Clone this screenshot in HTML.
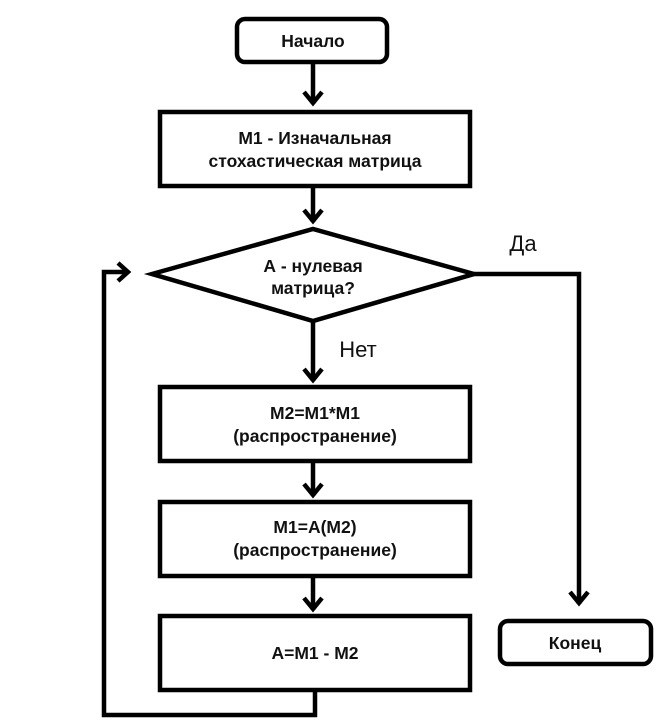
<!DOCTYPE html>
<html><head><meta charset="utf-8"><style>
html,body{margin:0;padding:0;background:#fff;}
svg text{font-family:"Liberation Sans","DejaVu Sans",sans-serif;}
.b{font-weight:bold;font-size:17.5px;}
</style></head><body>
<svg width="669" height="720" viewBox="0 0 669 720" xmlns="http://www.w3.org/2000/svg">
<g fill="none" stroke="#000" stroke-width="4.5" stroke-linejoin="miter">
<rect x="237" y="19" width="150" height="43" rx="8"/>
<rect x="160" y="112" width="310" height="74"/>
<polygon points="152,274 313,229 474,274 313,321"/>
<rect x="160" y="387" width="310" height="74"/>
<rect x="160" y="502" width="310" height="74"/>
<rect x="160" y="616" width="310" height="74"/>
<rect x="500" y="621" width="151" height="43" rx="8"/>
<line x1="313" y1="62" x2="313" y2="104"/>
<polyline points="304,92 313,103 322,92"/>
<line x1="313" y1="186" x2="313" y2="222"/>
<polyline points="304,210 313,221 322,210"/>
<line x1="313" y1="321" x2="313" y2="381"/>
<polyline points="304,369 313,380 322,369"/>
<line x1="313" y1="461" x2="313" y2="496"/>
<polyline points="304,484 313,495 322,484"/>
<line x1="313" y1="576" x2="313" y2="610"/>
<polyline points="304,598 313,609 322,598"/>
<polyline points="474,274 579,274 579,604"/>
<polyline points="570,592 579,603 588,592"/>
<polyline points="315,690 315,715 104,715 104,272 128,272"/>
<polyline points="118,263 128,272 118,281"/>
</g>
<g text-anchor="middle" fill="#111">
<text class="b" x="313" y="47">Начало</text>
<text class="b" x="315" y="144">М1 - Изначальная</text>
<text class="b" x="315" y="167">стохастическая матрица</text>
<text class="b" x="313" y="272">А - нулевая</text>
<text class="b" x="313" y="294">матрица?</text>
<text class="b" x="315" y="419">М2=М1*М1</text>
<text class="b" x="315" y="442">(распространение)</text>
<text class="b" x="315" y="533">М1=А(М2)</text>
<text class="b" x="315" y="556">(распространение)</text>
<text class="b" x="315" y="659">А=М1 - М2</text>
<text class="b" x="575" y="649">Конец</text>
<text x="523" y="251" font-size="22">Да</text>
<text x="358" y="357" font-size="22">Нет</text>
</g>
</svg>
</body></html>
